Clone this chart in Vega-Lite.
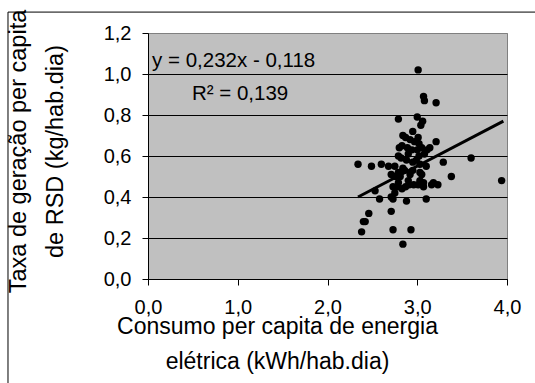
{
  "$schema": "https://vega.github.io/schema/vega-lite/v6.json",
  "width": 359,
  "height": 246,
  "autosize": {"type": "none"},
  "padding": {"left": 148, "top": 33, "right": 28, "bottom": 104},
  "background": "white",
  "config": {
    "view": {"fill": "#C0C0C0", "stroke": "#808080", "strokeWidth": 1},
    "font": "Liberation Sans",
    "axis": {"labelFont": "Liberation Sans", "titleFont": "Liberation Sans", "labelColor": "black", "titleColor": "black", "titleFontWeight": "normal", "domainColor": "black", "tickColor": "black"}
  },
  "layer": [
    {
      "data": {"values": [
        {"x": 3.01, "y": 1.02}, {"x": 3.07, "y": 0.89}, {"x": 3.08, "y": 0.87}, {"x": 3.21, "y": 0.86},
        {"x": 2.79, "y": 0.78}, {"x": 3.00, "y": 0.79}, {"x": 3.06, "y": 0.77}, {"x": 3.04, "y": 0.75},
        {"x": 2.84, "y": 0.70}, {"x": 2.87, "y": 0.69}, {"x": 2.92, "y": 0.68}, {"x": 3.01, "y": 0.69},
        {"x": 2.97, "y": 0.67}, {"x": 3.21, "y": 0.67}, {"x": 2.80, "y": 0.64}, {"x": 2.83, "y": 0.65},
        {"x": 2.89, "y": 0.64}, {"x": 2.94, "y": 0.63}, {"x": 3.00, "y": 0.63}, {"x": 3.05, "y": 0.64},
        {"x": 3.11, "y": 0.63}, {"x": 3.14, "y": 0.64}, {"x": 3.08, "y": 0.61}, {"x": 3.02, "y": 0.60},
        {"x": 2.79, "y": 0.60}, {"x": 2.34, "y": 0.56}, {"x": 2.49, "y": 0.55}, {"x": 2.60, "y": 0.56},
        {"x": 2.75, "y": 0.55}, {"x": 2.88, "y": 0.58}, {"x": 2.95, "y": 0.57}, {"x": 3.10, "y": 0.55},
        {"x": 3.29, "y": 0.57}, {"x": 3.60, "y": 0.59}, {"x": 2.71, "y": 0.51}, {"x": 2.79, "y": 0.52},
        {"x": 2.86, "y": 0.53}, {"x": 2.92, "y": 0.51}, {"x": 3.03, "y": 0.52}, {"x": 2.73, "y": 0.45},
        {"x": 2.83, "y": 0.44}, {"x": 2.79, "y": 0.47}, {"x": 2.91, "y": 0.46}, {"x": 3.01, "y": 0.46},
        {"x": 3.07, "y": 0.47}, {"x": 3.18, "y": 0.47}, {"x": 3.23, "y": 0.46}, {"x": 3.38, "y": 0.50},
        {"x": 3.94, "y": 0.48}, {"x": 2.53, "y": 0.43}, {"x": 2.58, "y": 0.39}, {"x": 2.73, "y": 0.39},
        {"x": 2.88, "y": 0.38}, {"x": 3.10, "y": 0.39}, {"x": 2.71, "y": 0.33}, {"x": 2.46, "y": 0.32},
        {"x": 2.42, "y": 0.28}, {"x": 2.40, "y": 0.28}, {"x": 2.38, "y": 0.23}, {"x": 2.73, "y": 0.24},
        {"x": 2.93, "y": 0.24}, {"x": 2.84, "y": 0.17}, {"x": 2.75, "y": 0.42}, {"x": 2.71, "y": 0.40},
        {"x": 2.84, "y": 0.54}, {"x": 2.95, "y": 0.53}, {"x": 3.03, "y": 0.56}, {"x": 2.76, "y": 0.50},
        {"x": 2.81, "y": 0.50}, {"x": 2.90, "y": 0.48}, {"x": 3.05, "y": 0.51}, {"x": 3.03, "y": 0.48},
        {"x": 2.96, "y": 0.46}, {"x": 3.07, "y": 0.45}, {"x": 2.78, "y": 0.45}, {"x": 2.87, "y": 0.45},
        {"x": 3.16, "y": 0.46}, {"x": 3.02, "y": 0.66}, {"x": 2.95, "y": 0.72}, {"x": 2.82, "y": 0.59},
        {"x": 2.68, "y": 0.55}, {"x": 2.90, "y": 0.61}, {"x": 2.99, "y": 0.58}
      ]},
      "mark": {"type": "circle", "color": "black", "opacity": 1, "size": 55},
      "encoding": {
        "x": {
          "field": "x", "type": "quantitative",
          "scale": {"domain": [0, 4], "nice": false, "zero": false},
          "axis": {
            "values": [0, 1, 2, 3, 4], "grid": false,
            "labelExpr": "replace(format(datum.value, '.1f'), '.', ',')",
            "labelFontSize": 20, "labelPadding": 12, "tickSize": 6, "labelFlush": false,
            "title": ["Consumo per capita de energia", "elétrica (kWh/hab.dia)"],
            "titleFontSize": 23, "titleLineHeight": 35, "titleBaseline": "alphabetic",
            "titleAlign": "center", "titleX": 129, "titleY": 54
          }
        },
        "y": {
          "field": "y", "type": "quantitative",
          "scale": {"domain": [0, 1.2], "nice": false, "zero": false},
          "axis": {
            "values": [0, 0.2, 0.4, 0.6, 0.8, 1.0, 1.2],
            "grid": true, "gridColor": {"condition": {"test": "datum.value >= 1.2", "value": "#808080"}, "value": "black"}, "gridWidth": 1, "gridOpacity": 1,
            "labelExpr": "replace(format(datum.value, '.1f'), '.', ',')",
            "labelFontSize": 20, "labelPadding": 11, "tickSize": 6, "labelFlush": false,
            "title": ["Taxa de geração per capita", "de RSD (kg/hab.dia)"],
            "titleFontSize": 23.5, "titleLineHeight": 37, "titleBaseline": "middle",
            "titleAlign": "center", "titleAngle": -90, "titleX": -130, "titleY": 118
          }
        }
      }
    },
    {
      "data": {"values": [{"x": 2.34, "y": 0.40}, {"x": 3.96, "y": 0.77}]},
      "mark": {"type": "line", "color": "black", "strokeWidth": 3},
      "encoding": {
        "x": {"field": "x", "type": "quantitative"},
        "y": {"field": "y", "type": "quantitative"}
      }
    },
    {
      "data": {"values": [
        {"x": 0.045, "y": 1.034, "label": "y = 0,232x - 0,118"},
        {"x": 0.49, "y": 0.873, "label": "R² = 0,139"}
      ]},
      "mark": {"type": "text", "align": "left", "baseline": "alphabetic", "fontSize": 20.5, "color": "black", "font": "Liberation Sans"},
      "encoding": {
        "x": {"field": "x", "type": "quantitative"},
        "y": {"field": "y", "type": "quantitative"},
        "text": {"field": "label"}
      }
    },
    {
      "data": {"values": [
        {"x": -1.56, "x2": -1.56, "y": 1.302, "y2": -0.6},
        {"x": -1.56, "x2": 4.4, "y": 1.302, "y2": 1.302}
      ]},
      "mark": {"type": "rule", "color": "black", "strokeWidth": 1},
      "encoding": {
        "x": {"field": "x", "type": "quantitative"},
        "x2": {"field": "x2"},
        "y": {"field": "y", "type": "quantitative"},
        "y2": {"field": "y2"}
      }
    }
  ]
}
